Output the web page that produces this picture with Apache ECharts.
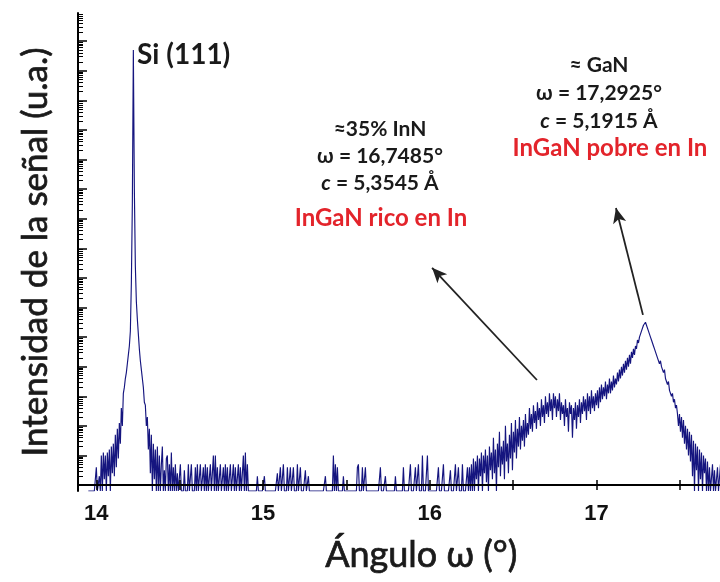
<!DOCTYPE html>
<html>
<head>
<meta charset="utf-8">
<script src="https://cdn.jsdelivr.net/npm/echarts@6/dist/echarts.min.js"></script>
<style>
  html, body { margin: 0; padding: 0; background: #fff; }
  #chart { width: 720px; height: 582px; }
</style>
</head>
<body>
<div id="chart"></div>
<script>
// omega scan step (degrees) and the three scan segments, intensity in u.a.
const step = 0.006

const siStart = 13.952
const siScan = [
  -2, -2, -2, -2, -2, -2, -2, -2, 6, -2,
  -2, 3, -2, 10, -2, 11, 2, 10, -2, 11,
  3, 12, -2, 13, 4, 14, 3, 17, 6, 19,
  9, 21, 14, 26, 20, 31, 33, 36, 38, 41,
  44, 47, 52, 68, 95, 147, 100, 74, 62, 56,
  51, 46, 42, 39, 36, 33, 28, 27, 20, 23,
  12, 19, 4, 17, -2, 14, 2, 12, -2, 13,
  -2, 10, -2, 7, 13, -2, 5, -2, 9, 10,
  -2, 7, -2, 11, -2, 6, -2, 7, -2, 4,
]

const noiseStart = 14.492
const noiseScan = [
  -2, -2, 7, -2, -2, -2, 5, -2, -2, -2,
  7, -2, -2, 7, -2, -2, -2, 6, -2, 7,
  -2, -2, 7, -2, -2, 6, -2, 7, -2, 6,
  -2, -2, 7, -2, -2, 10, -2, 10, -2, 6,
  -2, -2, 7, -2, -2, 6, -2, 7, -2, 6,
  -2, -2, 7, -2, -2, 7, -2, 6, -2, -2,
  7, -2, 6, -2, -2, 10, -2, 11, -2, 7,
  -2, -2, -2, -2, -2, -2, -2, -2, -2, 3,
  -2, -2, -2, -2, -2, -2, 3, -2, -2, -2,
  -2, -2, -2, -2, -2, -2, -2, -2, -2, 4,
  -2, -2, 6, -2, -2, 7, -2, -2, -2, 6,
  -2, -2, 6, -2, -2, 6, -2, -2, -2, 7,
  -2, -2, 6, -2, -2, -2, -2, 5, -2, -2,
  3, -2, -2, -2, -2, -2, -2, -2, -2, -2,
  -2, -2, -2, -2, -2, -2, -2, 3, -2, -2,
  -2, -2, -2, -2, -2, 10, -2, 7, -2, 6,
  -2, -2, -2, -2, -2, 3, -2, -2, -2, -2,
  -2, -2, -2, -2, -2, -2, -2, -2, -2, 6,
  7, -2, -2, -2, 6, -2, -2, 6, -2, -2,
  -2, -2, -2, -2, -2, -2, -2, -2, -2, -2,
  -2, -2, 6, -2, -2, -2, -2, 3, -2, -2,
  -2, -2, -2, -2, -2, -2, -2, 3, -2, -2,
  -2, -2, -2, -2, -2, 6, -2, -2, -2, -2,
  -2, -2, 7, -2, -2, -2, -2, 6, -2, -2,
  7, -2, -2, -2, 10, -2, -2, -2, -2, 10,
  -2, -2, -2, -2, -2, -2, -2, -2, -2, -2,
  6, -2, -2, -2, -2, 7, -2, -2, -2, -2,
  -2, -2, 5, -2, -2, -2, -2, 7, -2, -2,
  6, -2, -2, -2, 7, -2, -2, -2, -2, 6,
]

const inganStart = 16.232
const inganScan = [
  -2, 6, -2, 7, -2, 9, -2, 8, 2, 10,
  -2, 9, 3, 11, -2, 10, 4, 12, 1, 10,
  -2, 13, 5, 11, 2, 16, 4, 12, -2, 14,
  6, 18, 3, 13, 7, 15, 2, 20, 8, 14,
  4, 17, 9, 21, 5, 18, 11, 22, 9, 19,
  13, 23, 12, 20, 15, 22, 13, 24, 16, 21,
  17, 26, 19, 24, 18, 27, 21, 25, 19, 28,
  22, 26, 20, 29, 23, 27, 21, 30, 24, 28,
  23, 31, 25, 29, 22, 31, 26, 30, 23, 29,
  25, 31, 22, 28, 24, 27, 20, 29, 23, 26,
  18, 28, 24, 27, 16, 26, 22, 28, 19, 27,
  23, 29, 21, 28, 24, 30, 25, 29, 22, 31,
  25, 30, 24, 32, 26, 30, 25, 31, 27, 32,
  26, 33, 28, 34, 29, 33, 30, 35, 29, 34,
  31, 36, 31, 35, 32, 37, 33, 36, 34, 38,
  35, 39, 36, 40, 37, 41, 38, 42, 39, 43,
  40, 44, 41, 45, 43, 46, 44, 47, 46, 49,
  48, 50, 50, 52, 52, 54, 54, 55, 54, 54,
  52, 52, 50, 49, 48, 47, 46, 45, 45, 43,
  43, 41, 42, 40, 40, 38, 39, 36, 36, 34,
  35, 32, 32, 30, 31, 28, 29, 26, 27, 24,
  20, 24, 18, 23, 16, 22, 14, 20, 12, 19,
  10, 18, 8, 17, 3, 15, -2, 14, 5, 13,
  -2, 12, 2, 11, -2, 10, 4, 9, -2, 8,
  -2, 6, -2, -2, 7, -2, 5, -2, -2, 6,
  -2, -2, 7, -2, -2, 6, -2, -2, 5, -2,
  -2, 7, -2, -2, 6, -2, -2, -2, 5, -2,
]

const xTicks = [14, 14.5, 15, 15.5, 16, 16.5, 17, 17.5]
const xLabels = [14, 15, 16, 17]
const yMajorTicks = [0, 10, 20, 30, 40, 50, 60, 70, 80, 90, 100, 110, 120, 130, 140, 150]

// arrows: [tail, tip] in (omega, intensity)
const arrows = [
  [[16.643, 35.5], [16.014, 73.4]],
  [[17.279, 57.5], [17.117, 93.6]],
]

const points = []
;[[siStart, siScan], [noiseStart, noiseScan], [inganStart, inganScan]].forEach(([start, vals]) => {
  vals.forEach((v, i) => points.push([+(start + i * step).toFixed(4), v]))
})

// log-style minor ticks inside each decade
const yMinorTicks = []
yMajorTicks.forEach((d) => {
  ;[2, 3, 4, 5, 6, 7, 8, 9].forEach((k) => {
    const t = d + 10 * Math.log10(k)
    if (t < 159.4) yMinorTicks.push(+t.toFixed(2))
  })
})

const FONT = 'Lato, "Noto Sans", sans-serif'
const black = '#1a1a1a'
const red = '#e3242b'

const txt = (text, x, y, size, color, weight, align) => ({
  type: 'text',
  x: x,
  y: y,
  style: {
    text: text,
    fill: color,
    font: weight + ' ' + size + 'px ' + FONT,
    textAlign: align || 'center',
    textVerticalAlign: 'middle',
    rich: {
      i: { fontStyle: 'italic', fontWeight: weight, fontSize: size, fontFamily: FONT, fill: color },
    },
  },
})

const chart = echarts.init(document.getElementById('chart'), null, { renderer: 'canvas' })

chart.setOption({
  animation: false,
  backgroundColor: '#fff',
  grid: { left: 78, top: 13, width: 668.5, bottom: 91, outerBoundsMode: 'none', containLabel: false },
  xAxis: [
    {
      type: 'value',
      position: 'bottom',
      min: 13.89,
      max: 17.9,
      z: 5,
      axisLine: { lineStyle: { color: '#000', width: 2 } },
      axisTick: { inside: true, length: 5, customValues: xTicks, lineStyle: { color: '#000', width: 1.5 } },
      axisLabel: {
        customValues: xLabels,
        margin: 12,
        color: '#111',
        fontSize: 22,
        fontWeight: 'bold',
        fontFamily: '"Liberation Sans", Arial, sans-serif',
      },
      splitLine: { show: false },
      name: 'Ángulo ω (°)',
      nameLocation: 'middle',
      nameGap: 46,
      nameTextStyle: {
        fontSize: 36, color: black, fontFamily: FONT, padding: [0, 0, 0, 18],
        textBorderColor: black, textBorderWidth: 0.7,
      },
    },
    {
      type: 'value',
      position: 'top',
      min: 13.89,
      max: 17.9,
      z: 5,
      axisLine: { lineStyle: { color: '#000', width: 2 } },
      axisTick: { inside: true, length: 5, customValues: xTicks, lineStyle: { color: '#000', width: 1.5 } },
      axisLabel: { show: false },
      splitLine: { show: false },
    },
  ],
  yAxis: [
    {
      type: 'value',
      position: 'left',
      min: -2,
      max: 159.5,
      z: 5,
      axisLine: { lineStyle: { color: '#000', width: 2 } },
      axisTick: { inside: true, length: 9, customValues: yMajorTicks, lineStyle: { color: '#000', width: 1.5 } },
      axisLabel: { show: false },
      splitLine: { show: false },
      name: 'Intensidad de la señal (u.a.)',
      nameLocation: 'middle',
      nameGap: 25,
      nameTextStyle: {
        fontSize: 35, color: black, fontFamily: FONT,
        textBorderColor: black, textBorderWidth: 0.7,
      },
    },
    {
      type: 'value',
      position: 'left',
      min: -2,
      max: 159.5,
      z: 5,
      axisLine: { show: false },
      axisTick: { inside: true, length: 5, customValues: yMinorTicks, lineStyle: { color: '#000', width: 1 } },
      axisLabel: { show: false },
      splitLine: { show: false },
    },
  ],
  series: [
    {
      type: 'line',
      data: points,
      showSymbol: false,
      symbol: 'none',
      clip: true,
      lineStyle: { color: '#15157f', width: 1.15 },
      markLine: {
        silent: true,
        symbol: ['none', 'arrow'],
        symbolSize: [10, 15],
        label: { show: false },
        lineStyle: { color: '#222', width: 1.8, type: 'solid' },
        emphasis: { disabled: true },
        data: arrows.map(([a, b]) => [{ coord: a }, { coord: b }]),
      },
    },
  ],
  graphic: [
    txt('Si (111)', 137, 55, 28, black, 'bold', 'left'),
    txt('≈35% InN', 380, 129, 21, black, 'bold'),
    txt('ω = 16,7485°', 380, 156, 21, black, 'bold'),
    txt('{i|c} = 5,3545 Å', 380, 183, 21, black, 'bold'),
    txt('InGaN rico en In', 381, 218, 24, red, 'bold'),
    txt('≈ GaN', 599, 65, 21, black, 'bold'),
    txt('ω = 17,2925°', 599, 93, 21, black, 'bold'),
    txt('{i|c} = 5,1915 Å', 599, 121, 21, black, 'bold'),
    txt('InGaN pobre en In', 610, 148, 24, red, 'bold'),
  ],
})
</script>
</body>
</html>
